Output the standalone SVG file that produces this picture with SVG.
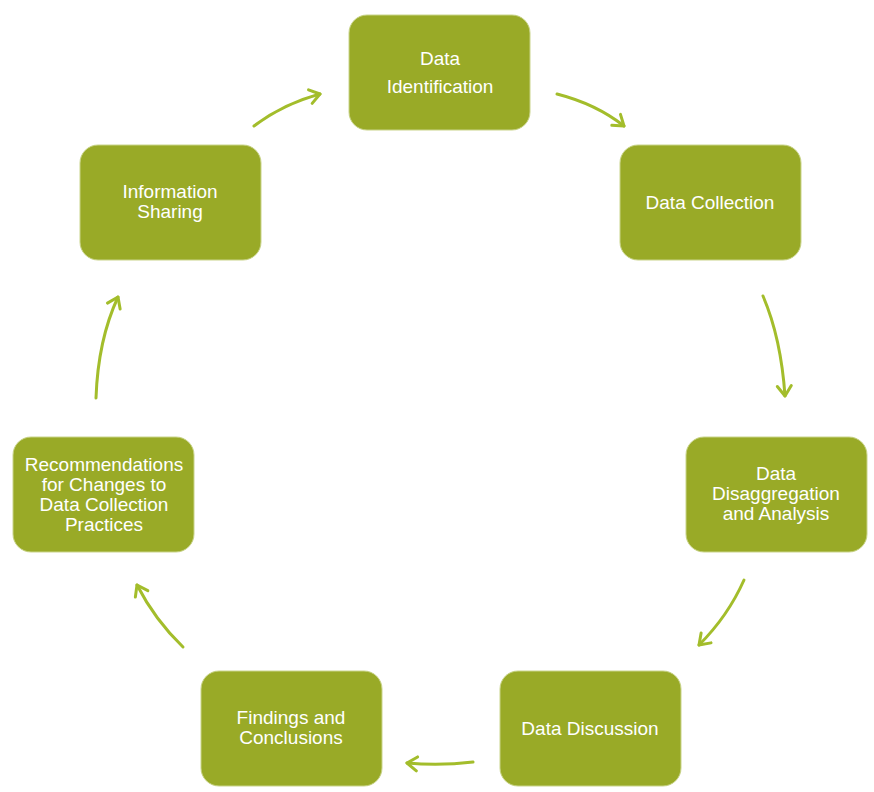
<svg xmlns="http://www.w3.org/2000/svg" width="874" height="792" viewBox="0 0 874 792">
<style>
.box{fill:#99aa27;stroke:#c9d48a;stroke-width:1}
.lbl{font-family:"Liberation Sans",Arial,sans-serif;font-size:19px;fill:#ffffff;text-anchor:middle}
.arr{fill:none;stroke:#a3bd2b;stroke-width:3;stroke-linecap:round;marker-end:url(#ah)}
</style>
<defs>
<marker id="ah" markerUnits="userSpaceOnUse" markerWidth="20" markerHeight="20" refX="12" refY="8" orient="auto" viewBox="0 0 20 16">
<path d="M2,1 L12,8 L2,15" fill="none" stroke="#a3bd2b" stroke-width="3" stroke-linecap="round" stroke-linejoin="round"/>
</marker>
</defs>
<rect width="874" height="792" fill="#ffffff"/>
<g id="connectors">
<path class="arr" d="M557,94 Q596,104 624,126"/>
<path class="arr" d="M763,296 Q781,338 785,396"/>
<path class="arr" d="M744,580 Q728,616 699,645"/>
<path class="arr" d="M473,762 Q440,766 407,763"/>
<path class="arr" d="M183,647 Q155,620 137,585"/>
<path class="arr" d="M96,398 Q98,340 118,297"/>
<path class="arr" d="M254,126 Q283,104 320,94"/>
</g>
<g id="n1"><rect class="box" x="349" y="15" width="181" height="115" rx="18"/><text class="lbl" x="440" y="65">Data</text><text class="lbl" x="440" y="93">Identification</text></g>
<g id="n2"><rect class="box" x="620" y="145" width="181" height="115" rx="18"/><text class="lbl" x="710" y="209">Data Collection</text></g>
<g id="n3"><rect class="box" x="686" y="437" width="181" height="115" rx="18"/><text class="lbl" x="776" y="480">Data</text><text class="lbl" x="776" y="500">Disaggregation</text><text class="lbl" x="776" y="520">and Analysis</text></g>
<g id="n4"><rect class="box" x="500" y="671" width="181" height="115" rx="18"/><text class="lbl" x="590" y="735">Data Discussion</text></g>
<g id="n5"><rect class="box" x="201" y="671" width="181" height="115" rx="18"/><text class="lbl" x="291" y="724">Findings and</text><text class="lbl" x="291" y="744">Conclusions</text></g>
<g id="n6"><rect class="box" x="13" y="437" width="181" height="115" rx="18"/><text class="lbl" x="104" y="471">Recommendations</text><text class="lbl" x="104" y="491">for Changes to</text><text class="lbl" x="104" y="511">Data Collection</text><text class="lbl" x="104" y="531">Practices</text></g>
<g id="n7"><rect class="box" x="80" y="145" width="181" height="115" rx="18"/><text class="lbl" x="170" y="198">Information</text><text class="lbl" x="170" y="218">Sharing</text></g>
</svg>
